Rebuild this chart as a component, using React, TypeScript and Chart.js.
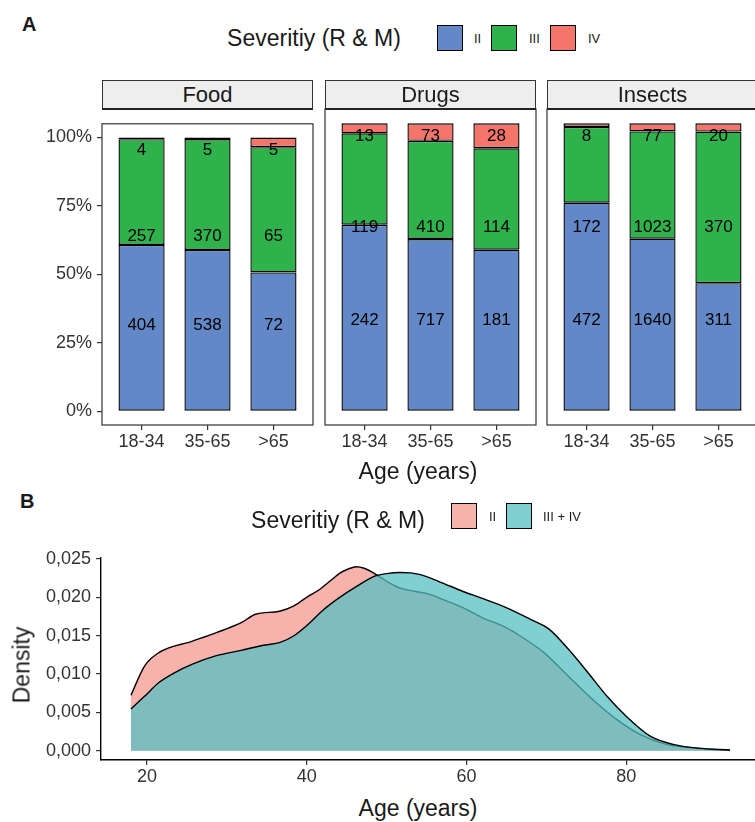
import React, { useEffect, useRef } from 'react';
import { Chart, registerables } from 'chart.js';

Chart.register(...registerables);

const FONT = '"Liberation Sans", Arial, Helvetica, sans-serif';
Chart.defaults.font.family = FONT;

// ---------- Panel A data ----------
const FACETS = ['Food', 'Drugs', 'Insects'];
const AGE_GROUPS = ['18-34', '35-65', '>65'];
const SEVERITY = ['II', 'III', 'IV'];

const FOOD_II = [404, 538, 72];
const FOOD_III = [257, 370, 65];
const FOOD_IV = [4, 5, 5];

const DRUGS_II = [242, 717, 181];
const DRUGS_III = [119, 410, 114];
const DRUGS_IV = [13, 73, 28];

const INSECTS_II = [472, 1640, 311];
const INSECTS_III = [172, 1023, 370];
const INSECTS_IV = [8, 77, 20];

const PCT_TICKS = [0, 0.25, 0.5, 0.75, 1];
const PCT_LABELS = ['0%', '25%', '50%', '75%', '100%'];

// ---------- Panel B data ----------
const DENS_GROUPS = ['II', 'III + IV'];
const AGE_II = [18, 19.7, 21.5, 25.7, 28.7, 31.8, 33.6, 36.6, 38.4, 40.0, 41.7, 43.0, 44.2, 45.2, 46.2, 47.2, 48.2, 49.4, 50.5, 51.7, 53.5, 55.4, 57.1, 59.5, 61.9, 64.9, 66.7, 69.7, 72.8, 75.8, 78.8, 81.8, 84.8, 89, 93];
const DENS_II = [0.00725, 0.01105, 0.0128, 0.0143, 0.0154, 0.0167, 0.0178, 0.0182, 0.0189, 0.0200, 0.0211, 0.0222, 0.0232, 0.0237, 0.0240, 0.0238, 0.0233, 0.0225, 0.0218, 0.0212, 0.0208, 0.0204, 0.0197, 0.0187, 0.0174, 0.0161, 0.0150, 0.0128, 0.0097, 0.0067, 0.0041, 0.0021, 0.0009, 0.0003, 0.00005];

const AGE_III_IV = [18, 19.7, 21.5, 23.5, 25.7, 28.7, 31.8, 34.8, 36.6, 38.4, 40.2, 42.0, 44.0, 46.2, 48.6, 50.0, 51.7, 53.0, 54.1, 56.5, 59.5, 61.9, 64.9, 67.9, 70.3, 72.8, 75.2, 77.6, 80, 83, 86, 89, 93];
const DENS_III_IV = [0.00546, 0.0071, 0.0089, 0.0102, 0.0113, 0.0124, 0.0131, 0.0138, 0.0141, 0.0150, 0.0165, 0.0183, 0.0199, 0.0214, 0.0228, 0.0231, 0.02325, 0.0232, 0.0230, 0.0221, 0.0208, 0.0199, 0.0187, 0.0172, 0.0159, 0.0132, 0.0102, 0.0071, 0.0045, 0.0019, 0.0008, 0.00035, 0.0001];

const AGE_TICKS = [20, 40, 60, 80];
const DENSITY_TICKS = [0, 0.005, 0.01, 0.015, 0.02, 0.025];

// ---------- styling ----------
const SEV_COLORS = ['#6388C7', '#2FB24B', '#F4766A'];
const DENS_FILLS = ['#F8B2AC', 'rgba(83,191,194,0.74)'];
const DENS_KEYS = ['#F8B2AC', '#80D0D2'];
const LABEL_LEVELS = [0.318, 0.641, 0.957];
const FACET_COUNTS = [
  [FOOD_II, FOOD_III, FOOD_IV],
  [DRUGS_II, DRUGS_III, DRUGS_IV],
  [INSECTS_II, INSECTS_III, INSECTS_IV],
];
const PANEL_LEFTS = [102, 325, 547];
const PANEL_W = 211;
const PANEL_TOP = 109;
const PANEL_H = 316;
const Y_AXIS_W = 101;

const panelBorder = {
  id: 'panelBorder',
  afterDraw(chart: any) {
    const { ctx, chartArea } = chart;
    ctx.save();
    ctx.strokeStyle = '#333';
    ctx.lineWidth = 1.2;
    ctx.strokeRect(chartArea.left, chartArea.top, chartArea.right - chartArea.left, chartArea.bottom - chartArea.top);
    ctx.restore();
  },
};

const barLabels = {
  id: 'barLabels',
  afterDatasetsDraw(chart: any) {
    const { ctx } = chart;
    ctx.save();
    ctx.font = `17px ${FONT}`;
    ctx.fillStyle = '#000';
    ctx.textAlign = 'center';
    ctx.textBaseline = 'middle';
    chart.data.datasets.forEach((ds: any, i: number) => {
      const meta = chart.getDatasetMeta(i);
      const y = chart.scales.y.getPixelForValue(LABEL_LEVELS[i]);
      meta.data.forEach((bar: any, j: number) => {
        ctx.fillText(String(ds.data[j].n), bar.x, y + 1);
      });
    });
    ctx.restore();
  },
};

function FacetChart({ idx }: { idx: number }) {
  const ref = useRef<HTMLCanvasElement>(null);
  const showY = idx === 0;
  const panelLeft = PANEL_LEFTS[idx];
  const canvasLeft = showY ? panelLeft - Y_AXIS_W - 1 : panelLeft - 1;
  const width = panelLeft - canvasLeft + PANEL_W + 1;
  const height = 1 + PANEL_H + 40;

  useEffect(() => {
    const counts = FACET_COUNTS[idx];
    const totals = AGE_GROUPS.map((_, j) => counts.reduce((s, c) => s + c[j], 0));
    const datasets = counts.map((c, i) => ({
      label: SEVERITY[i],
      data: c.map((v, j) => ({ x: j + 1, y: v / totals[j], n: v })),
      backgroundColor: SEV_COLORS[i],
      borderColor: '#000',
      borderWidth: 1.4,
      borderSkipped: false,
      categoryPercentage: 1,
      barPercentage: 0.7,
    }));
    const chart = new Chart(ref.current as HTMLCanvasElement, {
      type: 'bar',
      data: { datasets } as any,
      options: {
        responsive: false,
        animation: false,
        layout: { padding: { top: 1, left: 1, right: 1, bottom: 0 } },
        plugins: { legend: { display: false }, tooltip: { enabled: false } },
        scales: {
          x: {
            type: 'linear',
            stacked: true,
            offset: false,
            min: 0.4,
            max: 3.6,
            afterBuildTicks: (s: any) => { s.ticks = [1, 2, 3].map((v) => ({ value: v })); },
            afterFit: (s: any) => { s.height = 40; },
            ticks: {
              callback: (v: any) => AGE_GROUPS[Math.round(v) - 1],
              font: { size: 18 },
              color: '#333',
              padding: 1,
              maxRotation: 0,
              autoSkip: false,
            },
            grid: { display: true, offset: false, drawOnChartArea: false, drawTicks: true, tickLength: 5, color: '#333', lineWidth: 1.2 },
            border: { display: false },
          },
          y: {
            type: 'linear',
            stacked: true,
            display: showY,
            min: -0.05,
            max: 1.05,
            afterBuildTicks: (s: any) => { s.ticks = PCT_TICKS.map((v) => ({ value: v })); },
            afterFit: (s: any) => { s.width = showY ? Y_AXIS_W : 0; },
            ticks: {
              callback: (v: any) => PCT_LABELS[PCT_TICKS.indexOf(Number(v))] ?? '',
              font: { size: 18 },
              color: '#333',
              padding: 5,
            },
            grid: { display: true, drawOnChartArea: false, drawTicks: true, tickLength: 5, color: '#333', lineWidth: 1.2 },
            border: { display: false },
          },
        },
      } as any,
      plugins: [panelBorder, barLabels],
    });
    return () => chart.destroy();
  }, [idx]);

  return (
    <canvas
      ref={ref}
      width={width}
      height={height}
      style={{ position: 'absolute', left: canvasLeft, top: PANEL_TOP - 1, width, height }}
    />
  );
}

function DensityChart() {
  const ref = useRef<HTMLCanvasElement>(null);
  useEffect(() => {
    const chart = new Chart(ref.current as HTMLCanvasElement, {
      type: 'line',
      data: {
        datasets: [
          {
            label: DENS_GROUPS[0],
            data: AGE_II.map((x, i) => ({ x, y: DENS_II[i] })),
            borderColor: '#000',
            borderWidth: 1.4,
            backgroundColor: DENS_FILLS[0],
            fill: 'origin',
            pointRadius: 0,
            cubicInterpolationMode: 'monotone',
            order: 2,
          },
          {
            label: DENS_GROUPS[1],
            data: AGE_III_IV.map((x, i) => ({ x, y: DENS_III_IV[i] })),
            borderColor: '#000',
            borderWidth: 1.4,
            backgroundColor: DENS_FILLS[1],
            fill: 'origin',
            pointRadius: 0,
            cubicInterpolationMode: 'monotone',
            order: 1,
          },
        ],
      } as any,
      options: {
        responsive: false,
        animation: false,
        layout: { padding: { top: 17.5, left: 0, right: 0, bottom: 0 } },
        plugins: { legend: { display: false }, tooltip: { enabled: false } },
        scales: {
          x: {
            type: 'linear',
            min: 14.25,
            max: 96.75,
            afterBuildTicks: (s: any) => { s.ticks = AGE_TICKS.map((v) => ({ value: v })); },
            afterFit: (s: any) => { s.height = 30; },
            ticks: { font: { size: 18 }, color: '#333', padding: 1, maxRotation: 0, autoSkip: false },
            grid: { display: true, drawOnChartArea: false, drawTicks: true, tickLength: 5, color: '#333', lineWidth: 1.2 },
            border: { display: true, color: '#000', width: 1.4 },
          },
          y: {
            type: 'linear',
            min: -0.0012,
            max: 0.0252,
            afterBuildTicks: (s: any) => { s.ticks = DENSITY_TICKS.map((v) => ({ value: v })); },
            afterFit: (s: any) => { s.width = 101; },
            ticks: {
              callback: (v: any) => Number(v).toFixed(3).replace('.', ','),
              font: { size: 18 },
              color: '#333',
              padding: 5,
            },
            grid: { display: true, drawOnChartArea: false, drawTicks: true, tickLength: 5, color: '#333', lineWidth: 1.2 },
            border: { display: true, color: '#000', width: 1.4 },
          },
        },
      } as any,
    });
    return () => chart.destroy();
  }, []);
  return (
    <canvas
      ref={ref}
      width={760}
      height={250}
      style={{ position: 'absolute', left: 0, top: 540, width: 760, height: 250 }}
    />
  );
}

function Txt(props: { x: number; y: number; size: number; text: string; left?: boolean; bold?: boolean; rotate?: boolean }) {
  const { x, y, size, text, left, bold, rotate } = props;
  return (
    <div
      style={{
        position: 'absolute',
        left: x,
        top: y,
        transform: `translate(${left ? '0' : '-50%'}, -50%)${rotate ? ' rotate(-90deg)' : ''}`,
        fontSize: size,
        lineHeight: 1,
        whiteSpace: 'nowrap',
        fontFamily: FONT,
        color: '#1a1a1a',
        fontWeight: bold ? 700 : 400,
      }}
    >
      {text}
    </div>
  );
}

function Box({ x, y, color }: { x: number; y: number; color: string }) {
  return (
    <div
      style={{
        position: 'absolute',
        left: x,
        top: y,
        width: 26,
        height: 26,
        boxSizing: 'border-box',
        border: '1.5px solid #000',
        background: color,
      }}
    />
  );
}

export default function App() {
  return (
    <div style={{ position: 'relative', width: 755, height: 822, overflow: 'hidden', background: '#fff', fontFamily: FONT }}>
      <style>{'html,body{margin:0;padding:0;background:#fff;overflow:hidden}'}</style>

      {/* Panel A */}
      <Txt x={22} y={24} size={20} text="A" left bold />
      <Txt x={314} y={38} size={23} text="Severitiy (R & M)" />
      <Box x={437} y={25} color={SEV_COLORS[0]} />
      <Txt x={474} y={38} size={13} text={SEVERITY[0]} left />
      <Box x={491} y={25} color={SEV_COLORS[1]} />
      <Txt x={529} y={38} size={13} text={SEVERITY[1]} left />
      <Box x={550} y={25} color={SEV_COLORS[2]} />
      <Txt x={588} y={38} size={13} text={SEVERITY[2]} left />

      {FACETS.map((_, i) => (
        <FacetChart key={i} idx={i} />
      ))}
      {FACETS.map((f, i) => (
        <div
          key={'s' + i}
          style={{
            position: 'absolute',
            left: PANEL_LEFTS[i],
            top: 80,
            width: PANEL_W,
            height: 30,
            boxSizing: 'border-box',
            border: '1.2px solid #333',
            borderBottom: '2px solid #222',
            background: '#EDEEED',
            display: 'flex',
            alignItems: 'center',
            justifyContent: 'center',
            fontSize: 22,
            color: '#1a1a1a',
            lineHeight: 1,
          }}
        >
          {f}
        </div>
      ))}
      <Txt x={418} y={471} size={23} text="Age (years)" />

      {/* Panel B */}
      <Txt x={20} y={501} size={20} text="B" left bold />
      <Txt x={338} y={520} size={23} text="Severitiy (R & M)" />
      <Box x={451} y={503} color={DENS_KEYS[0]} />
      <Txt x={489} y={516} size={13} text={DENS_GROUPS[0]} left />
      <Box x={506} y={503} color={DENS_KEYS[1]} />
      <Txt x={543} y={516} size={13} text={DENS_GROUPS[1]} left />

      <DensityChart />
      <Txt x={22} y={665} size={23} text="Density" rotate />
      <Txt x={418} y={808} size={23} text="Age (years)" />
    </div>
  );
}
